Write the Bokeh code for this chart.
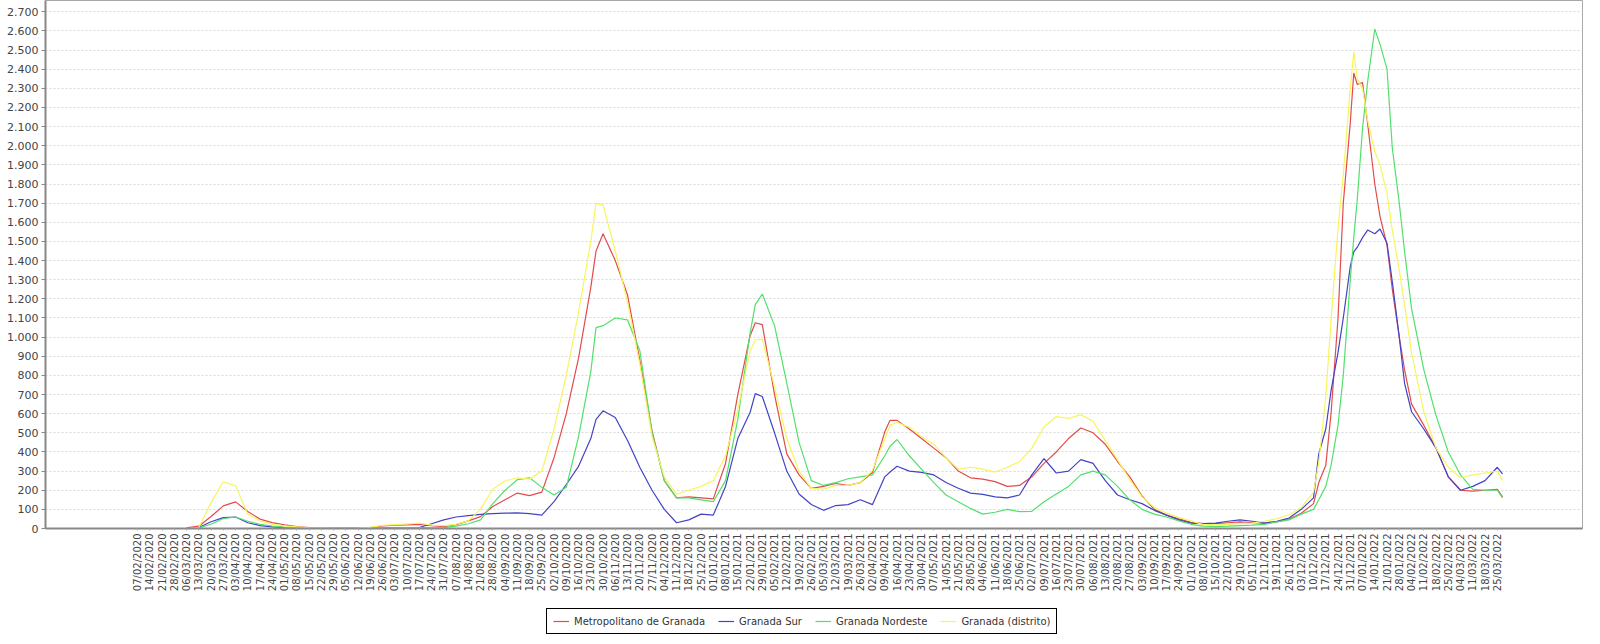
import pandas as pd
from math import pi
from bokeh.plotting import figure
from bokeh.layouts import column
from bokeh.models import Range1d, FixedTicker, Legend, LegendItem
from bokeh.embed import file_html
from bokeh.resources import INLINE

origin = pd.Timestamp("2020-02-07")
tick_dates = pd.date_range("2020-02-07", "2022-03-25", freq="7D")
tick_labels = [d.strftime("%d/%m/%Y") for d in tick_dates]
y_ticks = list(range(0, 2701, 100))

series_names = ["Metropolitano de Granada", "Granada Sur", "Granada Nordeste", "Granada (distrito)"]
series_colors = ["#e44a4c", "#4343c6", "#52e06c", "#f6f65c"]

dates = [
    "2020-03-06", "2020-03-13", "2020-03-20", "2020-03-27", "2020-04-03", "2020-04-10", "2020-04-17", "2020-04-24", "2020-05-01",
    "2020-05-08", "2020-05-15", "2020-05-22", "2020-05-29", "2020-06-05", "2020-06-12", "2020-06-19", "2020-06-26", "2020-07-03", "2020-07-10", "2020-07-17",
    "2020-07-24", "2020-07-31", "2020-08-07", "2020-08-14", "2020-08-21", "2020-08-28", "2020-09-04", "2020-09-11", "2020-09-18", "2020-09-25",
    "2020-10-02", "2020-10-09", "2020-10-16", "2020-10-23", "2020-10-26", "2020-10-30", "2020-11-06", "2020-11-13", "2020-11-20", "2020-11-27", "2020-12-04", "2020-12-11", "2020-12-18", "2020-12-25", "2021-01-01",
    "2021-01-08", "2021-01-15", "2021-01-22", "2021-01-25", "2021-01-29", "2021-02-05", "2021-02-12", "2021-02-19", "2021-02-26", "2021-03-05", "2021-03-12", "2021-03-19", "2021-03-26", "2021-04-02",
    "2021-04-09", "2021-04-12", "2021-04-16", "2021-04-23", "2021-04-30", "2021-05-07", "2021-05-14", "2021-05-21", "2021-05-28", "2021-06-04", "2021-06-11", "2021-06-18", "2021-06-25",
    "2021-07-02", "2021-07-09", "2021-07-16", "2021-07-23", "2021-07-30", "2021-08-06", "2021-08-13", "2021-08-20", "2021-08-27", "2021-09-03", "2021-09-10", "2021-09-17", "2021-09-24", "2021-10-01",
    "2021-10-08", "2021-10-15", "2021-10-22", "2021-10-29", "2021-11-05", "2021-11-12", "2021-11-19", "2021-11-26", "2021-12-03", "2021-12-10",
    "2021-12-13", "2021-12-17", "2021-12-20", "2021-12-24", "2021-12-27", "2021-12-31", "2022-01-02", "2022-01-04", "2022-01-07", "2022-01-10", "2022-01-14", "2022-01-17", "2022-01-21", "2022-01-24", "2022-01-28", "2022-01-31", "2022-02-04",
    "2022-02-11", "2022-02-18", "2022-02-25", "2022-03-04", "2022-03-11", "2022-03-18", "2022-03-25", "2022-03-28",
]

metropolitano = [
    3, 12, 63, 118, 139, 89, 49, 31, 19,
    10, 5, 3, 2, 2, 3, 5, 14, 17, 19, 22,
    15, 10, 20, 40, 62, 115, 150, 185, 172, 190,
    370, 600, 890, 1260, 1450, 1540, 1400, 1220, 880, 510, 250, 160, 165, 160, 155,
    340, 700, 1006, 1075, 1065, 700, 390, 280, 210, 220, 235, 225, 240, 293,
    505, 565, 565, 520, 470, 420, 370, 300, 265, 258, 245, 220, 225,
    270, 340, 400, 470, 525, 500, 440, 350, 270, 170, 100, 70, 50, 32,
    25, 25, 30, 35, 30, 28, 35, 50, 80, 130,
    240, 330, 600, 1100, 1700, 2120, 2380, 2320, 2330, 2110, 1800, 1630, 1480, 1250, 1000, 830, 650,
    540, 420, 270, 200, 195, 200, 205, 165,
]

sur = [
    0, 5, 35, 57, 60, 30, 15, 8, 5,
    3, 2, 1, 1, 1, 1, 1, 2, 3, 3, 5,
    25, 45, 60, 67, 74, 78, 80, 82, 78, 70,
    140, 230, 325, 470, 570, 615, 580, 460, 320, 200, 100, 30, 45, 75, 70,
    220, 470, 606, 705, 690, 500, 300, 180, 125, 95, 120, 125, 150, 125,
    270, 295, 325, 300, 293, 280, 240, 210, 185, 178, 165, 160, 175,
    280, 365, 290, 300, 360, 340, 250, 175, 150, 130, 95, 70, 45, 28,
    25, 28, 38, 45, 38, 28, 38, 55, 100, 160,
    390, 520, 720, 920, 1100, 1370, 1445, 1470, 1520, 1560, 1540, 1565, 1490, 1290, 1000, 760, 610,
    520, 420, 270, 200, 220, 250, 320, 285,
]

nordeste = [
    0, 3, 22, 52, 60, 38, 22, 13, 7,
    3, 2, 1, 1, 1, 1, 2, 3, 4, 5, 5,
    4, 5, 12, 25, 45, 130, 200, 255, 265, 215,
    175, 215, 480, 820, 1050, 1060, 1100, 1090, 930, 500, 250, 160, 160, 150, 140,
    250, 570, 1020, 1170, 1225, 1060, 760, 450, 250, 225, 240, 260, 270, 280,
    380, 430, 465, 380, 310, 240, 175, 140, 105, 75, 85, 100, 88,
    90, 140, 180, 220, 280, 300, 280, 220, 150, 100, 75, 60, 40, 22,
    12, 10, 12, 15, 18, 22, 35, 45, 75, 100,
    150, 220, 330, 540, 800, 1300, 1520, 1720, 2090, 2340, 2610, 2530, 2400, 1990, 1700, 1450, 1150,
    830, 590, 400, 280, 205, 200, 200, 160,
]

distrito = [
    0, 5, 135, 244, 223, 75, 40, 23, 14,
    8, 4, 3, 2, 2, 3, 6, 16, 20, 24, 28,
    18, 15, 22, 40, 100, 205, 248, 265, 258, 300,
    520, 800, 1130, 1500, 1700, 1690, 1450, 1180, 860, 480, 270, 180, 200, 220, 250,
    380, 620, 928, 985, 990, 740, 470, 300, 210, 205, 225, 225, 240, 305,
    470, 540, 554, 530, 480, 440, 370, 310, 320, 310, 295, 320, 350,
    420, 530, 585, 575, 595, 560, 460, 360, 255, 165, 110, 80, 58, 40,
    20, 20, 22, 25, 28, 38, 52, 72, 110, 190,
    345, 690, 1090, 1570, 1850, 2300, 2490, 2350, 2300, 2130, 1970, 1900, 1750, 1560, 1350, 1170, 920,
    610, 420, 320, 265, 280, 290, 300, 250,
]

series_values = [metropolitano, sur, nordeste, distrito]
for s in series_values:
    assert len(s) == len(dates), (len(s), len(dates))

x = [(pd.Timestamp(d) - origin).days for d in dates]
tick_x = [int((d - origin).days) for d in tick_dates]

FONT = "DejaVu Sans"

p = figure(
    frame_width=1537, frame_height=528,
    min_border_left=45, min_border_right=2, min_border_top=0, min_border_bottom=0,
    x_range=Range1d(-52.6, 825.7), y_range=Range1d(0, 2759),
    output_backend="svg", toolbar_location=None,
)
p.background_fill_color = "white"
p.border_fill_color = "white"
p.outline_line_color = "#a8a8a8"
p.outline_line_width = 1

p.xgrid.grid_line_color = None
p.ygrid.grid_line_color = "#d8d8d8"
p.ygrid.grid_line_dash = "2 2"
p.ygrid.ticker = FixedTicker(ticks=y_ticks)

p.yaxis.ticker = FixedTicker(ticks=y_ticks)
p.yaxis.major_label_overrides = {v: f"{v:,}".replace(",", ".") for v in y_ticks}
p.yaxis.axis_line_color = "#888888"
p.yaxis.axis_line_width = 2
p.yaxis.major_tick_line_color = "#888888"
p.yaxis.major_tick_out = 4
p.yaxis.major_tick_in = 0
p.yaxis.minor_tick_line_color = None
p.yaxis.major_label_text_font = FONT
p.yaxis.major_label_text_font_size = "11px"
p.yaxis.major_label_text_color = "#444444"
p.yaxis.major_label_standoff = 3

p.xaxis.ticker = FixedTicker(ticks=tick_x)
p.xaxis.major_label_overrides = {t: lab for t, lab in zip(tick_x, tick_labels)}
p.xaxis.major_label_orientation = pi / 2
p.xaxis.axis_line_color = "#888888"
p.xaxis.axis_line_width = 2
p.xaxis.major_tick_line_color = "#aaaaaa"
p.xaxis.major_tick_out = 2
p.xaxis.major_tick_in = 0
p.xaxis.minor_tick_line_color = None
p.xaxis.major_label_text_font = FONT
p.xaxis.major_label_text_font_size = "10px"
p.xaxis.major_label_text_color = "#444444"
p.xaxis.major_label_standoff = 3

for col, vals in zip(series_colors, series_values):
    p.line(x, vals, line_color=col, line_width=1.2)

# legend strip below the chart (its lines use the same data, but lie outside its view)
leg = figure(
    width=1584, height=42, min_border=0,
    x_range=Range1d(-2, -1), y_range=Range1d(-2, -1),
    x_axis_location=None, y_axis_location=None,
    output_backend="svg", toolbar_location=None,
)
leg.outline_line_color = None
leg.xgrid.grid_line_color = None
leg.ygrid.grid_line_color = None
leg.background_fill_color = "white"
leg.border_fill_color = "white"

items = []
for name, col, vals in zip(series_names, series_colors, series_values):
    r = leg.line(x, vals, line_color=col, line_width=1.2)
    items.append(LegendItem(label=name, renderers=[r]))

legend = Legend(items=items, orientation="horizontal", location=(501, 2))
legend.border_line_color = "black"
legend.border_line_width = 1
legend.border_line_alpha = 1
legend.background_fill_color = "white"
legend.background_fill_alpha = 1
legend.label_text_font = FONT
legend.label_text_font_size = "10px"
legend.label_text_color = "#333333"
legend.label_height = 12
legend.glyph_width = 16
legend.glyph_height = 10
legend.label_standoff = 5
legend.spacing = 13
legend.padding = 6
legend.margin = 0
leg.add_layout(legend, "center")

layout = column(p, leg, spacing=0)
open("out.html", "w").write(file_html(layout, INLINE))
